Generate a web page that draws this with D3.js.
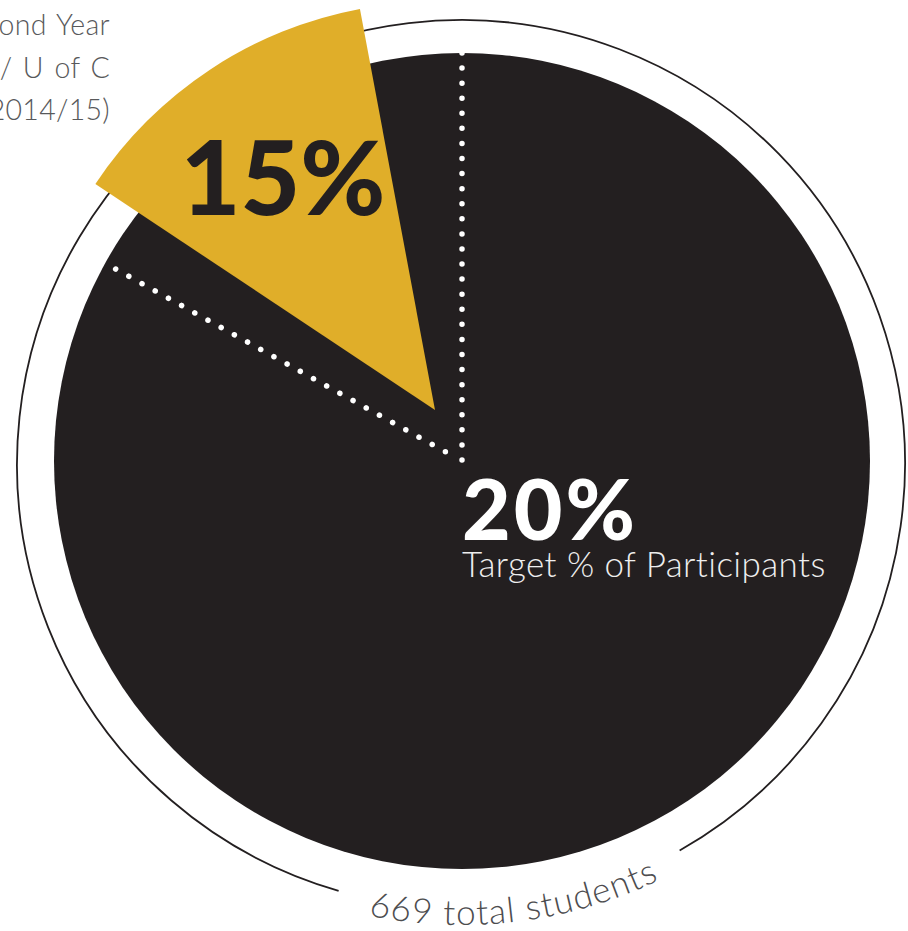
<!DOCTYPE html>
<html lang="en">
<head>
  <meta charset="UTF-8">
  <title>Second Year Participants</title>
  <script src="https://d3js.org/d3.v7.min.js"></script>
  <style>
    body { margin: 0; background: #ffffff; }
    svg { display: block; }
    .light { font-family: "Lato", "Open Sans", sans-serif; font-weight: 300; }
    .heavy { font-family: "Lato", "Inter", sans-serif; font-weight: 900; }
  </style>
</head>
<body>
  <script>
    // Chart values
    const totalStudents = [669];
    const pctLabels = ["actual", "target"];
    const pctValues = [15, 20];
    const targetCaption = ["Target % of Participants"];
    const titleLines = ["Second Year", "Students / U of C", "(2014/15)"];

    const width = 908, height = 931;
    const dark = "#231f20", gold = "#e0ae29";

    const cx = 462, cy = 461, R = 408;       // main disc
    const ringCx = 461, ringCy = 464, ringR = 444;
    const deg = Math.PI / 180;

    // percent -> angle (the artwork squeezes the circle a bit: 20% spans ~61deg)
    const angle = d3.scaleLinear().domain([0, 20]).range([0, 61 * deg]);

    const svg = d3.select("body").append("svg")
      .attr("width", width)
      .attr("height", height);

    // outer ring with a gap at the bottom for the total label
    const gapStart = 150.5 * deg, gapEnd = 196 * deg;   // clockwise from 12 o'clock
    const ring = d3.path();
    ring.arc(ringCx, ringCy, ringR, gapEnd - Math.PI / 2, gapStart + 2 * Math.PI - Math.PI / 2, false);
    svg.append("path")
      .attr("d", ring.toString())
      .attr("fill", "none")
      .attr("stroke", dark)
      .attr("stroke-width", 1.8);

    // main disc
    svg.append("circle")
      .attr("cx", cx)
      .attr("cy", cy)
      .attr("r", R)
      .attr("fill", dark);

    const actual = pctValues[pctLabels.indexOf("actual")];
    const target = pctValues[pctLabels.indexOf("target")];

    // dotted guides for the target slice, dots spaced ~15px with one at each end
    const guides = [
      { a: 0, r0: 1, r1: R },
      { a: -angle(target), r0: 19, r1: 396 }
    ];
    svg.append("g")
      .selectAll("line")
      .data(guides)
      .join("line")
      .attr("x1", d => cx + d.r0 * Math.sin(d.a))
      .attr("y1", d => cy - d.r0 * Math.cos(d.a))
      .attr("x2", d => cx + d.r1 * Math.sin(d.a))
      .attr("y2", d => cy - d.r1 * Math.cos(d.a))
      .attr("stroke", "#ffffff")
      .attr("stroke-width", 5.5)
      .attr("stroke-linecap", "round")
      .attr("stroke-dasharray", d => {
        const len = d.r1 - d.r0;
        const step = len / Math.round(len / 15);
        return `0 ${step - 0.001} 0.001 0`;
      });

    // exploded gold slice (actual share)
    const sliceEnd = -10.6 * deg;
    const arc = d3.arc().innerRadius(0).outerRadius(R);
    svg.append("path")
      .attr("transform", `translate(${cx - 27},${cy - 51})`)
      .attr("d", arc({ startAngle: sliceEnd - angle(actual), endAngle: sliceEnd }))
      .attr("fill", gold);

    svg.append("text")
      .attr("class", "heavy")
      .attr("x", 283)
      .attr("y", 215)
      .attr("text-anchor", "middle")
      .attr("font-size", 103)
      .attr("fill", dark)
      .text(actual + "%");

    // target label
    svg.append("text")
      .attr("class", "heavy")
      .attr("x", 462)
      .attr("y", 540)
      .attr("font-size", 84)
      .attr("letter-spacing", 3)
      .attr("fill", "#ffffff")
      .text(target + "%");

    svg.append("text")
      .attr("class", "light")
      .attr("x", 462)
      .attr("y", 577)
      .attr("font-size", 35)
      .attr("letter-spacing", 0.4)
      .attr("fill", "#eeeeee")
      .text(targetCaption[0]);

    // title, cut by the left edge as in the artwork
    svg.append("text")
      .attr("class", "light")
      .attr("text-anchor", "end")
      .attr("font-size", 28.5)
      .attr("letter-spacing", 0.3)
      .attr("word-spacing", 2.5)
      .attr("fill", "#58595b")
      .selectAll("tspan")
      .data(titleLines)
      .join("tspan")
      .attr("x", 110)
      .attr("y", (d, i) => 35 + i * 42.5)
      .text(d => d);

    // curved total label
    const labelR = 461;
    const labelPath = d3.path();
    labelPath.arc(ringCx, ringCy, labelR, 200 * deg - Math.PI / 2, 146 * deg - Math.PI / 2, true);
    svg.append("path")
      .attr("id", "totalPath")
      .attr("d", labelPath.toString())
      .attr("fill", "none");

    svg.append("text")
      .attr("class", "light")
      .attr("font-size", 35)
      .attr("letter-spacing", 1.2)
      .attr("fill", "#4d4d4f")
      .append("textPath")
      .attr("href", "#totalPath")
      .attr("startOffset", "50%")
      .attr("text-anchor", "middle")
      .text(totalStudents[0] + " total students");
  </script>
</body>
</html>
